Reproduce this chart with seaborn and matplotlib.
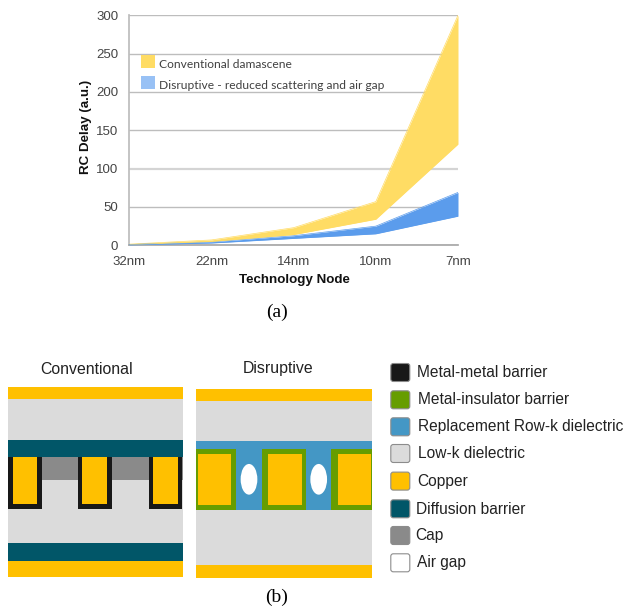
import pandas as pd
import matplotlib
matplotlib.use('Agg')
import matplotlib.pyplot as plt
from matplotlib.patches import Rectangle, Ellipse, FancyBboxPatch
import seaborn as sns

# Values
nodes = ['32nm', '22nm', '14nm', '10nm', '7nm']
conv_upper = [1.5, 7, 23, 57, 300]
conv_lower = [1, 5, 14, 34, 132]
disr_upper = [1, 4.5, 12.5, 25, 69]
disr_lower = [0.5, 3, 9, 15, 38]
y_ticks = [0, 50, 100, 150, 200, 250, 300]
area_labels = ['Conventional damascene', 'Disruptive - reduced scattering and air gap']
key_labels = ['Metal-metal barrier', 'Metal-insulator barrier', 'Replacement Row-k dielectric',
              'Low-k dielectric', 'Copper', 'Diffusion barrier', 'Cap', 'Air gap']

YELLOW = '#FFDC64'
BLUE = '#5B9CEC'
COPPER = '#FFC000'
LOWK = '#DBDBDB'
DIFF = '#015668'
CAP = '#8A8A8A'
METAL = '#181818'
GREEN = '#669D00'
REPL = '#4497C5'
key_colors = [METAL, GREEN, REPL, LOWK, COPPER, DIFF, CAP, 'white']

sns.set_theme(style='white')
plt.rcParams['font.family'] = ['Liberation Sans', 'DejaVu Sans']

W, H = 626, 610
fig = plt.figure(figsize=(W / 100, H / 100), dpi=100)
ax = fig.add_axes([129.3 / W, 1 - 245.3 / H, (458 - 129.3) / W, (245.3 - 15.3) / H])

bands = pd.DataFrame({
    'node': nodes * 4,
    'value': conv_upper + conv_lower + disr_upper + disr_lower,
    'edge': ['cu'] * 5 + ['cl'] * 5 + ['du'] * 5 + ['dl'] * 5,
})
sns.lineplot(data=bands, x='node', y='value', hue='edge', sort=False, legend=False, linewidth=0.5,
             palette={'cu': YELLOW, 'cl': YELLOW, 'du': BLUE, 'dl': BLUE}, ax=ax, zorder=3)
ax.fill_between(nodes, conv_lower, conv_upper, color=YELLOW, linewidth=0, zorder=3)
ax.fill_between(nodes, disr_lower, disr_upper, color=BLUE, linewidth=0, zorder=3)

ax.set_xlim(0, 4)
ax.set_ylim(0, 300)
ax.set_yticks(y_ticks)
ax.grid(axis='y', color='#BDBDBD', linewidth=1)
ax.set_axisbelow(True)
# the 100 line is paler and heavier in the original
ax.get_ygridlines()[2].set_color('#D4D4D4')
ax.get_ygridlines()[2].set_linewidth(1.6)
sns.despine(ax=ax, top=True, right=True)
ax.spines['left'].set_color('#BDBDBD')
ax.spines['bottom'].set_color('#A8A8A8')
ax.tick_params(axis='y', labelsize=9.5, labelcolor='#444444', length=0, pad=8)
ax.tick_params(axis='x', labelsize=9.5, labelcolor='#444444', length=0, pad=8)
ax.set_xlabel('')
ax.set_ylabel('')

# Pixel-space layer for labels and the cross-section schematics
ov = fig.add_axes([0, 0, 1, 1])
ov.set_xlim(0, W)
ov.set_ylim(H, 0)
ov.axis('off')
ov.patch.set_alpha(0)


def box(x0, y0, x1, y1, color):
    ov.add_patch(Rectangle((x0, y0), x1 - x0, y1 - y0, facecolor=color, edgecolor='none'))


ov.text(294, 280, 'Technology Node', ha='center', va='center', fontsize=9.6, fontweight='bold', color='#111111')
ov.text(86, 127, 'RC Delay (a.u.)', ha='center', va='center', rotation=90, fontsize=9.6,
        fontweight='bold', color='#111111')

# area legend
box(141, 55, 155, 68.3, YELLOW)
box(141, 76.3, 155, 89.3, '#98C1F5')
ov.text(158.7, 65, area_labels[0], va='center', fontsize=8.65, family='Lato', color='#404040')
ov.text(158.7, 85.5, area_labels[1], va='center', fontsize=8.65, family='Lato', color='#404040')

ov.text(277, 312, '(a)', ha='center', va='center', fontsize=14, family='Liberation Serif', color='black')
ov.text(276.7, 597, '(b)', ha='center', va='center', fontsize=14, family='Liberation Serif', color='black')
ov.text(87, 369, 'Conventional', ha='center', va='center', fontsize=11.4, color='#222222')
ov.text(278, 369, 'Disruptive', ha='center', va='center', fontsize=11.4, color='#222222')

# conventional stack
box(7.7, 387.3, 183, 399.3, COPPER)
box(7.7, 399.3, 183, 440, LOWK)
box(7.7, 440, 183, 457.3, DIFF)
box(7.7, 457.3, 183, 543.3, LOWK)
box(7.7, 457.3, 183, 480, CAP)
for x0, x1, c0, c1 in [(7.7, 41.7, 12.7, 36.7), (78, 112, 82.3, 107.3), (148.7, 182.3, 152.7, 177.7)]:
    box(x0, 457.3, x1, 508.7, METAL)
    box(c0, 457.3, c1, 503.7, COPPER)
box(7.7, 543.3, 183, 561, DIFF)
box(7.7, 561, 183, 576.7, COPPER)

# disruptive stack
box(196, 389, 372.3, 400.7, COPPER)
box(196, 400.7, 372.3, 441.3, LOWK)
box(196, 441.3, 372.3, 510, REPL)
box(196, 510, 372.3, 565, LOWK)
box(196, 565, 372.3, 578, COPPER)
for x0, x1, c0, c1 in [(195.7, 236.3, 197.7, 231.3), (262, 306, 267.7, 301.7), (331.3, 372.3, 337.7, 371.3)]:
    box(x0, 449, x1, 510.3, GREEN)
    box(c0, 454, c1, 505.3, COPPER)
for cx in [249, 318.7]:
    ov.add_patch(Ellipse((cx, 479.3), 16.7, 30.7, facecolor='white', edgecolor='none'))

# material key
key_tops = [362.7, 390, 417, 443.7, 471.3, 499, 525.7, 553]
key_text_x = [417, 417.7, 417.7, 417.7, 417.7, 416.3, 415.7, 417.3]
for top, tx, col, lab in zip(key_tops, key_text_x, key_colors, key_labels):
    ov.add_patch(FancyBboxPatch((390.8, top + 0.8), 19, 18, boxstyle='round,pad=0,rounding_size=2.5',
                                facecolor=col, edgecolor='#8C8C8C', linewidth=0.8))
    ov.text(tx, top + 10, lab, va='center', fontsize=11.2, color='#222222')

plt.savefig('out.png', dpi=100)
plt.close()
